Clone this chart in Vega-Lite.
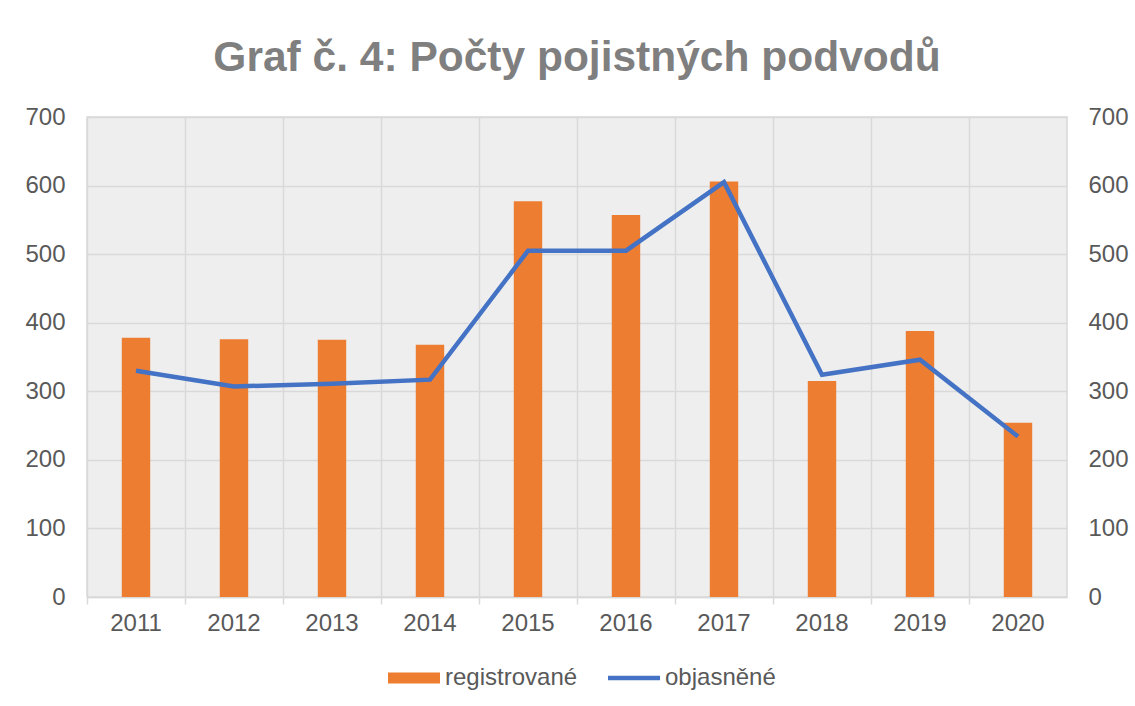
{
  "$schema": "https://vega.github.io/schema/vega-lite/v6.json",
  "width": 980,
  "height": 480,
  "autosize": {"type": "none"},
  "padding": {"left": 87, "top": 117, "right": 68, "bottom": 109},
  "background": "white",
  "title": {
    "text": "Graf č. 4: Počty pojistných podvodů",
    "font": "Liberation Sans",
    "fontSize": 42.5,
    "fontWeight": "bold",
    "color": "#7f7f7f",
    "anchor": "middle",
    "baseline": "alphabetic",
    "offset": -8
  },
  "config": {
    "view": {"stroke": "#d9d9d9", "strokeWidth": 1.5, "fill": "#eeeeee"},
    "axis": {
      "labelFont": "Liberation Sans",
      "labelFontSize": 24,
      "labelColor": "#595959",
      "gridColor": "#d9d9d9",
      "gridWidth": 1.5,
      "title": null
    },
    "legend": {
      "labelFont": "Liberation Sans",
      "labelFontSize": 24,
      "labelColor": "#595959"
    }
  },
  "data": {
    "values": [
      {"year": "2011", "registrovane": 378, "objasnene": 330},
      {"year": "2012", "registrovane": 376, "objasnene": 307},
      {"year": "2013", "registrovane": 375, "objasnene": 311},
      {"year": "2014", "registrovane": 368, "objasnene": 317},
      {"year": "2015", "registrovane": 577, "objasnene": 505},
      {"year": "2016", "registrovane": 557, "objasnene": 505},
      {"year": "2017", "registrovane": 606, "objasnene": 605},
      {"year": "2018", "registrovane": 315, "objasnene": 324},
      {"year": "2019", "registrovane": 388, "objasnene": 346},
      {"year": "2020", "registrovane": 254, "objasnene": 234}
    ]
  },
  "encoding": {
    "x": {
      "field": "year",
      "type": "ordinal",
      "scale": {"paddingInner": 0, "paddingOuter": 0},
      "axis": {
        "bandPosition": 0,
        "grid": true,
        "ticks": true,
        "tickSize": 7,
        "tickColor": "#d9d9d9",
        "tickWidth": 1.5,
        "domainColor": "#d9d9d9",
        "domainWidth": 1.5,
        "labelAngle": 0,
        "labelPadding": 7
      }
    }
  },
  "layer": [
    {
      "mark": {"type": "bar", "width": {"band": 0.29}},
      "encoding": {
        "y": {
          "field": "registrovane",
          "type": "quantitative",
          "scale": {"domain": [0, 700]},
          "axis": {"orient": "left", "values": [0, 100, 200, 300, 400, 500, 600, 700], "domain": false, "ticks": false, "labelPadding": 22, "grid": true}
        },
        "color": {
          "datum": "registrované",
          "type": "nominal",
          "scale": {"domain": ["registrované", "objasněné"], "range": ["#ED7D31", "#4472C4"]},
          "legend": {
            "title": null,
            "orient": "none",
            "direction": "horizontal",
            "legendX": 315,
            "legendY": 549,
            "padding": 0,
            "symbolSize": 2704,
            "columnPadding": 21,
            "labelOffset": 19,
            "encode": {
              "symbols": {
                "update": {
                  "shape": {"signal": "datum.value === 'registrované' ? 'M-1,-0.21H1V0.21H-1Z' : 'M-1,0H1'"},
                  "fill": {"signal": "datum.value === 'registrované' ? '#ED7D31' : 'transparent'"},
                  "stroke": {"signal": "datum.value === 'registrované' ? '#ED7D31' : '#4472C4'"},
                  "strokeWidth": {"signal": "datum.value === 'registrované' ? 0 : 4.5"},
                  "opacity": {"value": 1}
                }
              }
            }
          }
        }
      }
    },
    {
      "mark": {"type": "line", "strokeWidth": 4.5},
      "encoding": {
        "y": {
          "field": "objasnene",
          "type": "quantitative",
          "scale": {"domain": [0, 700]},
          "axis": {"orient": "right", "values": [0, 100, 200, 300, 400, 500, 600, 700], "domain": false, "ticks": false, "labelPadding": 21, "grid": false}
        },
        "color": {"datum": "objasněné", "type": "nominal"}
      }
    }
  ],
  "resolve": {"scale": {"y": "independent"}}
}
